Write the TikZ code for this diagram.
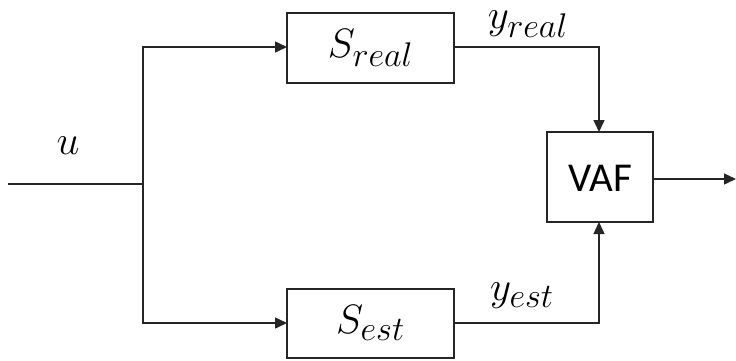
\documentclass[tikz,border=0pt]{standalone}
\usepackage{fontspec}
\newfontfamily\blockfont{Carlito}
\usetikzlibrary{arrows.meta}
\begin{document}
\begin{tikzpicture}[x=1pt,y=-1pt,
  wire/.style={line width=1.5pt,draw={black!85}},
  feed/.style={wire,-{Triangle[length=12pt,width=11pt]}},
  blockbox/.style={line width=1.5pt,draw={black!85},fill=white},
  mathlabel/.style={font=\Huge,scale=1.65,inner sep=0pt},
  sanslabel/.style={font=\blockfont\fontsize{41}{48}\selectfont,inner sep=0pt}]
\useasboundingbox (0,0) rectangle (736,360);

% blocks
\draw[blockbox] (287,13) rectangle (454,83);
\node[mathlabel] (sreal) at (370.5,48) {$S_{real}$};
\coordinate (srealW) at (287,47);
\coordinate (srealE) at (454,47);

\draw[blockbox] (287,289) rectangle (454,358);
\node[mathlabel] (sest) at (370.5,323) {$S_{est}$};
\coordinate (sestW) at (287,323);
\coordinate (sestE) at (454,323);

\draw[blockbox] (547,132) rectangle (653,222);
\node[sanslabel] (vaf) at (600,178) {VAF};
\coordinate (vafN) at (599,132);
\coordinate (vafS) at (599,222);
\coordinate (vafE) at (653,179);

% input and branch point
\coordinate (in) at (8,184);
\coordinate (split) at (143,184);
\coordinate (out) at (736,179);

\draw[wire] (in) -- (split);
\draw[feed] (split) |- (srealW);
\draw[feed] (split) |- (sestW);
\draw[feed] (srealE) -| (vafN);
\draw[feed] (sestE) -| (vafS);
\draw[feed] (vafE) -- (out);

% signal labels
\node[mathlabel] (ulab) at (68,146) {$u$};
\node[mathlabel] (yreal) at (528,24) {$y_{real}$};
\node[mathlabel] (yest) at (522,296) {$y_{est}$};
\end{tikzpicture}
\end{document}
